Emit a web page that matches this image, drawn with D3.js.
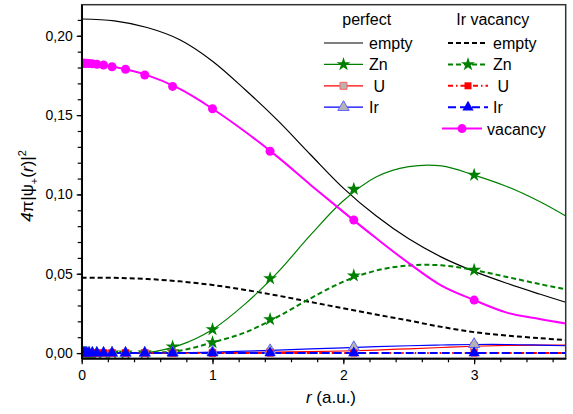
<!DOCTYPE html>
<html>
<head>
<meta charset="utf-8">
<script src="https://cdn.jsdelivr.net/npm/d3@7"></script>
<style>
  body { margin: 0; background: #fff; }
  text { font-family: "Liberation Sans", Arial, sans-serif; fill: #000; }
</style>
</head>
<body>
<svg id="chart" width="573" height="414"></svg>
<script>
// radius grid for the curves (a.u.)
var rLine = [0, 0.25, 0.5, 0.75, 1.0, 1.25, 1.5, 1.75, 2.0, 2.25, 2.5, 2.75, 3.0, 3.25, 3.5, 3.7];
// perfect crystal
var emptyPerf = [0.2106, 0.2094, 0.2052, 0.1975, 0.1840, 0.1660, 0.1465, 0.1250, 0.1040, 0.0865, 0.0720, 0.0605, 0.0515, 0.0440, 0.0372, 0.0320];
var znPerf    = [0, 0, 0.0003, 0.0050, 0.0149, 0.0310, 0.0510, 0.0745, 0.0960, 0.1110, 0.1175, 0.1180, 0.1122, 0.1050, 0.0955, 0.0864];
var uPerf     = [0, 0, 0, 0, 0.0001, 0.0003, 0.0006, 0.0009, 0.0013, 0.0019, 0.0027, 0.0035, 0.0043, 0.0048, 0.0050, 0.0050];
var irPerf    = [0, 0, 0, 0.0002, 0.0006, 0.0012, 0.0019, 0.0026, 0.0033, 0.0040, 0.0046, 0.0051, 0.0054, 0.0054, 0.0050, 0.0046];
// Ir vacancy
var emptyVac  = [0.0475, 0.0474, 0.0467, 0.0452, 0.0429, 0.0398, 0.0362, 0.0322, 0.0282, 0.0243, 0.0205, 0.0165, 0.0132, 0.0110, 0.0094, 0.0082];
var znVac     = [0, 0, 0.0001, 0.0015, 0.0067, 0.0130, 0.0230, 0.0345, 0.0450, 0.0520, 0.0552, 0.0553, 0.0523, 0.0480, 0.0435, 0.0402];
var uVac      = [0, 0, 0, 0, 0, 0, 0, 0, 0, 0, 0, 0, 0, 0, 0, 0];
var irVac     = [0, 0, 0, 0, 0, 0, 0, 0, 0, 0, 0, 0, 0, 0, 0, 0];
var vacancy   = [0.1827, 0.1803, 0.1752, 0.1665, 0.1540, 0.1395, 0.1235, 0.1060, 0.0890, 0.0725, 0.0567, 0.0425, 0.0334, 0.0255, 0.0215, 0.0187];

// radial mesh points where the symbols sit
var rMark = [0.013, 0.019, 0.027, 0.039, 0.056, 0.081, 0.116, 0.167, 0.232, 0.335, 0.482, 0.695, 1.0, 1.44, 2.08, 3.0];
var znPerfM   = [0, 0, 0, 0, 0, 0, 0, 0, 0, 0, 0.0002, 0.0040, 0.0149, 0.0470, 0.1034, 0.1122];
var uPerfM    = [0, 0, 0, 0, 0, 0, 0, 0, 0, 0, 0, 0, 0.0001, 0.0005, 0.0015, 0.0044];
var irPerfM   = [0, 0, 0, 0, 0, 0, 0, 0, 0, 0, 0, 0.0002, 0.0006, 0.0017, 0.0036, 0.0056];
var znVacM    = [0, 0, 0, 0, 0, 0, 0, 0, 0, 0, 0, 0.0010, 0.0067, 0.0212, 0.0488, 0.0523];
var uVacM     = [0, 0, 0, 0, 0, 0, 0, 0, 0, 0, 0, 0, 0, 0, 0, 0];
var irVacM    = [0, 0, 0, 0, 0, 0, 0, 0, 0, 0, 0, 0, 0, 0, 0, 0];
var vacancyM  = [0.1827, 0.1827, 0.1827, 0.1827, 0.1826, 0.1824, 0.1821, 0.1816, 0.1805, 0.1789, 0.1753, 0.1681, 0.1540, 0.1272, 0.0839, 0.0334];

var yTicks = [0, 0.05, 0.10, 0.15, 0.20];
var xTicks = [0, 1, 2, 3];

var svg = d3.select('#chart');
var x = d3.scaleLinear().domain([0, 3.7]).range([81.7, 565.7]);
var y = d3.scaleLinear().domain([-0.0033, 0.2196]).range([358.3, 4.7]);

svg.append('clipPath').attr('id', 'clip').append('rect')
  .attr('x', x(0)).attr('y', y(0.2196)).attr('width', x(3.7) - x(0)).attr('height', y(-0.0033) - y(0.2196));

// series styles
var series = [
  {v: emptyVac, m: null, color: '#000', w: 2, dash: '5,3'},
  {v: emptyPerf, m: null, color: '#000', w: 1.2, dash: null},
  {v: znVac, m: znVacM, color: '#008000', w: 2, dash: '5,3', sym: 'star', fill: '#008000'},
  {v: znPerf, m: znPerfM, color: '#008000', w: 1.2, dash: null, sym: 'star', fill: '#008000'},
  {v: uPerf, m: uPerfM, color: '#ff0000', w: 1.2, dash: null, sym: 'square', fill: '#b4b4b4', stroke: '#ff6060'},
  {v: irPerf, m: irPerfM, color: '#0000ff', w: 1.2, dash: null, sym: 'triangle', fill: '#b4b4b4', stroke: '#6060ff'},
  {v: uVac, m: uVacM, color: '#ff0000', w: 2, dash: '5,3,1.5,3', sym: 'square', fill: '#ff0000'},
  {v: irVac, m: irVacM, color: '#0000ff', w: 2, dash: '8,4', sym: 'triangle', fill: '#0000ff'},
  {v: vacancy, m: vacancyM, color: '#ff00ff', w: 2, dash: null, sym: 'circle', fill: '#ff00ff'}
];

var symbolTypes = {star: d3.symbolStar, square: d3.symbolSquare, triangle: d3.symbolTriangle, circle: d3.symbolCircle};
var symbolSizes = {star: 60, square: 49, triangle: 55, circle: 64};

var line = d3.line()
  .x(function (d) { return x(d[0]); })
  .y(function (d) { return y(d[1]); })
  .curve(d3.curveCatmullRom.alpha(0.5));

var plot = svg.append('g').attr('clip-path', 'url(#clip)');

series.forEach(function (s) {
  var pts = rLine.map(function (r, i) { return [r, s.v[i]]; });
  plot.append('path')
    .attr('d', line(pts))
    .attr('fill', 'none')
    .attr('stroke', s.color)
    .attr('stroke-width', s.w)
    .attr('stroke-dasharray', s.dash);
});

series.forEach(function (s) {
  if (!s.m) return;
  plot.selectAll(null)
    .data(rMark.map(function (r, i) { return [r, s.m[i]]; }))
    .enter().append('path')
    .attr('d', d3.symbol().type(symbolTypes[s.sym]).size(symbolSizes[s.sym]))
    .attr('transform', function (d) { return 'translate(' + x(d[0]) + ',' + y(d[1]) + ')'; })
    .attr('fill', s.fill)
    .attr('stroke', s.stroke || 'none')
    .attr('stroke-width', 1);
});

// frame
svg.append('rect')
  .attr('x', x(0)).attr('y', y(0.2196))
  .attr('width', x(3.7) - x(0)).attr('height', y(-0.0033) - y(0.2196))
  .attr('fill', 'none').attr('stroke', '#333').attr('stroke-width', 1.5);

// axes
var fmt = function (d) { return d3.format('.2f')(d).replace('.', ','); };
svg.append('g').attr('transform', 'translate(' + x(0) + ',0)')
  .call(d3.axisLeft(y).tickValues(yTicks).tickFormat(fmt).tickSize(5).tickPadding(4).tickSizeOuter(0));
svg.append('g').attr('transform', 'translate(' + x(0) + ',0)')
  .call(d3.axisLeft(y).tickValues(d3.range(0, 0.22, 0.01)).tickFormat('').tickSize(4).tickSizeOuter(0));
svg.append('g').attr('transform', 'translate(0,' + y(-0.0033) + ')')
  .call(d3.axisBottom(x).tickValues(xTicks).tickFormat(d3.format('d')).tickSize(6).tickPadding(6).tickSizeOuter(0));
svg.append('g').attr('transform', 'translate(0,' + y(-0.0033) + ')')
  .call(d3.axisBottom(x).tickValues(d3.range(0, 3.7, 0.2)).tickFormat('').tickSize(4).tickSizeOuter(0));

svg.selectAll('.domain').attr('stroke', '#000').attr('stroke-width', 1.5);
svg.selectAll('.tick line').attr('stroke', '#000').attr('stroke-width', 1.2);
svg.selectAll('.tick text').style('font-size', '14px').attr('fill', '#000')
  .style('font-family', '"Liberation Sans", Arial, sans-serif');

// axis titles
var xl = svg.append('text').attr('x', 331).attr('y', 403).attr('text-anchor', 'middle').style('font-size', '17px');
xl.append('tspan').style('font-style', 'italic').text('r');
xl.append('tspan').text(' (a.u.)');

var yl = svg.append('text').attr('transform', 'translate(33,186) rotate(-90)')
  .attr('text-anchor', 'middle').style('font-size', '17px');
yl.append('tspan').style('font-style', 'italic').text('4');
yl.append('tspan').text('π|ψ');
yl.append('tspan').attr('dy', 5).style('font-size', '11px').text('+');
yl.append('tspan').attr('dy', -5).text('(');
yl.append('tspan').style('font-style', 'italic').text('r');
yl.append('tspan').text(')|');
yl.append('tspan').attr('dy', -7).style('font-size', '11px').text('2');

// legend
var legend = svg.append('g');
legend.append('text').attr('x', 366.7).attr('y', 25).attr('text-anchor', 'middle').style('font-size', '16px').text('perfect');
legend.append('text').attr('x', 492.7).attr('y', 25).attr('text-anchor', 'middle').style('font-size', '16px').text('Ir vacancy');

var legRows = [
  {s: series[1], label: 'empty', col: 0, row: 0},
  {s: series[3], label: 'Zn', col: 0, row: 1},
  {s: series[4], label: ' U', col: 0, row: 2},
  {s: series[5], label: 'Ir', col: 0, row: 3},
  {s: series[0], label: 'empty', col: 1, row: 0},
  {s: series[2], label: 'Zn', col: 1, row: 1},
  {s: series[6], label: ' U', col: 1, row: 2},
  {s: series[7], label: 'Ir', col: 1, row: 3},
  {s: series[8], label: 'vacancy', col: 2, row: 4}
];
var colX = [[324, 363, 369], [448, 488, 493], [442, 482, 487]];

legRows.forEach(function (d) {
  var cy = 43 + d.row * 21.4;
  var c = colX[d.col];
  legend.append('line')
    .attr('x1', c[0]).attr('x2', c[1]).attr('y1', cy).attr('y2', cy)
    .attr('stroke', d.s.color).attr('stroke-width', d.s.w).attr('stroke-dasharray', d.s.dash);
  if (d.s.sym) {
    legend.append('path')
      .attr('d', d3.symbol().type(symbolTypes[d.s.sym]).size(symbolSizes[d.s.sym])())
      .attr('transform', 'translate(' + (c[0] + c[1]) / 2 + ',' + cy + ')')
      .attr('fill', d.s.fill).attr('stroke', d.s.stroke || 'none');
  }
  legend.append('text').attr('x', c[2]).attr('y', cy + 6).style('font-size', '16px')
    .style('white-space', 'pre').text(d.label);
});
</script>
</body>
</html>
